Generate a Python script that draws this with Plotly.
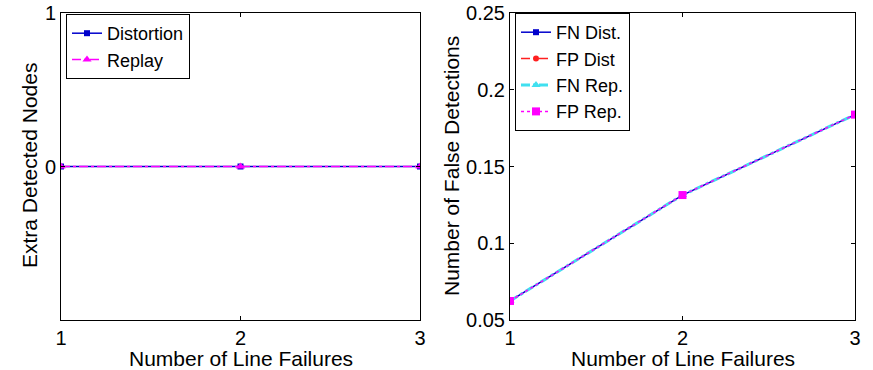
import plotly.graph_objects as go

failures = [1, 2, 3]
extra_distortion = [0, 0, 0]
extra_replay = [0, 0, 0]
fn_dist = [0.0624, 0.1314, 0.1838]
fp_dist = [0.0624, 0.1314, 0.1838]
fn_rep = [0.0624, 0.1314, 0.1838]
fp_rep = [0.0624, 0.1314, 0.1838]

x_title = "Number of Line Failures"
y_title_left = "Extra Detected Nodes"
y_title_right = "Number of False Detections"

FONT = "Liberation Sans, Arial, Helvetica, sans-serif"
W, H = 873, 370
PH = 307  # plot-area height in px

fig = go.Figure()

fig.add_trace(go.Scatter(x=failures, y=extra_distortion, name="Distortion", mode="lines+markers",
                         line=dict(color="#0000cc", width=1.5), marker=dict(symbol="square", size=6, color="#0000cc"),
                         xaxis="x", yaxis="y", legend="legend"))
fig.add_trace(go.Scatter(x=failures, y=extra_replay, name="Replay", mode="lines+markers",
                         line=dict(color="#ff00ff", width=1.5, dash="dashdot"), marker=dict(symbol="triangle-up", size=8, color="#ff00ff"),
                         xaxis="x", yaxis="y", legend="legend"))

fig.add_trace(go.Scatter(x=failures, y=fn_dist, name="FN Dist.", mode="lines+markers",
                         line=dict(color="#0000cc", width=1.5), marker=dict(symbol="square", size=6, color="#0000cc"),
                         xaxis="x2", yaxis="y2", legend="legend2"))
fig.add_trace(go.Scatter(x=failures, y=fp_dist, name="FP Dist", mode="lines+markers",
                         line=dict(color="#ff2020", width=1.5, dash="dash"), marker=dict(symbol="circle", size=6, color="#ff2020"),
                         xaxis="x2", yaxis="y2", legend="legend2"))
fig.add_trace(go.Scatter(x=failures, y=fn_rep, name="FN Rep.", mode="lines+markers",
                         line=dict(color="#40e0f0", width=3, dash="dashdot"), marker=dict(symbol="triangle-up", size=8, color="#40e0f0"),
                         xaxis="x2", yaxis="y2", legend="legend2"))
fig.add_trace(go.Scatter(x=failures, y=fp_rep, name="FP Rep.", mode="lines+markers",
                         line=dict(color="#ff00ff", width=1.5, dash="dot"), marker=dict(symbol="square", size=8, color="#ff00ff"),
                         xaxis="x2", yaxis="y2", legend="legend2"))

axis_common = dict(showline=True, linecolor="black", linewidth=1, mirror="ticks", ticks="inside",
                   ticklen=4, tickcolor="black", showgrid=False, zeroline=False,
                   tickfont=dict(family=FONT, size=20, color="black"))

TS = 21
fig.update_layout(
    width=W, height=H,
    margin=dict(l=0, r=0, t=13, b=50),
    paper_bgcolor="white", plot_bgcolor="white",
    font=dict(family=FONT, color="black"),
    xaxis=dict(domain=[61/W, 420/W], range=[1, 3], tickvals=[1, 2, 3], automargin=False, **axis_common),
    yaxis=dict(domain=[0, 1], range=[-1, 1], tickvals=[0, 1], anchor="x", automargin=False, **axis_common),
    xaxis2=dict(domain=[510/W, 855/W], range=[1, 3], tickvals=[1, 2, 3], anchor="y2", automargin=False, **axis_common),
    yaxis2=dict(domain=[0, 1], range=[0.05, 0.25], tickvals=[0.05, 0.1, 0.15, 0.2, 0.25],
                ticktext=["0.05", "0.1", "0.15", "0.2", "0.25"], anchor="x2", automargin=False, **axis_common),
    legend=dict(x=66/W, y=1 - 1/PH, xanchor="left", yanchor="top", bgcolor="white",
                bordercolor="black", borderwidth=1, font=dict(size=18), tracegroupgap=0,
                itemwidth=30),
    legend2=dict(x=515/W, y=1 - 0/PH, xanchor="left", yanchor="top", bgcolor="white",
                 bordercolor="black", borderwidth=1, font=dict(size=18), tracegroupgap=0,
                 itemwidth=30),
    annotations=[
        dict(text=x_title, xref="paper", yref="paper", x=(61 + 420) / 2 / W, y=(320 - 358) / PH,
             xanchor="center", yanchor="middle", showarrow=False, font=dict(size=TS)),
        dict(text=x_title, xref="paper", yref="paper", x=(510 + 855) / 2 / W, y=(320 - 358) / PH,
             xanchor="center", yanchor="middle", showarrow=False, font=dict(size=TS)),
        dict(text=y_title_left, xref="paper", yref="paper", x=29 / W, y=(320 - 166) / PH,
             xanchor="center", yanchor="middle", showarrow=False, textangle=-90, font=dict(size=TS)),
        dict(text=y_title_right, xref="paper", yref="paper", x=451 / W, y=(320 - 166) / PH,
             xanchor="center", yanchor="middle", showarrow=False, textangle=-90, font=dict(size=TS)),
    ],
)

fig.write_html("out.html")
